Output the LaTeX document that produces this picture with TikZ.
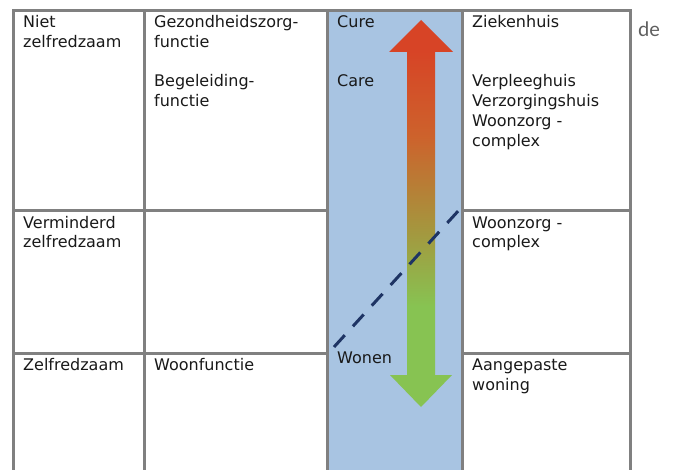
\documentclass[tikz,border=0pt]{standalone}
\usepackage{fontspec}
\setmainfont{DejaVu Sans}
\newfontfamily\defont{Lato}
\definecolor{gridgray}{RGB}{128,128,128}
\definecolor{colblue}{RGB}{168,196,226}
\definecolor{dashblue}{RGB}{30,52,100}
\definecolor{arrred}{RGB}{215,68,38}
\definecolor{arrorange}{RGB}{205,98,44}
\definecolor{arrolive}{RGB}{165,150,62}
\definecolor{arrgreen}{RGB}{135,195,82}
\definecolor{degray}{RGB}{95,95,95}
\pgfdeclareverticalshading{arrowshade}{100bp}{color(0bp)=(arrgreen); color(25bp)=(arrgreen); color(38bp)=(arrgreen); color(48bp)=(arrolive); color(60bp)=(arrorange); color(71bp)=(arrred); color(75bp)=(arrred); color(100bp)=(arrred)}
\begin{document}
\begin{tikzpicture}[x=1pt,y=-1pt,
  gridline/.style={draw=gridgray,line width=3pt},
  celltext/.style={anchor=base west,inner sep=0pt,align=left,font=\fontsize{16}{20}\selectfont,text=black!90},
  dashline/.style={draw=dashblue,line width=3pt,dash pattern=on 16pt off 12pt}]
\useasboundingbox (0,0) rectangle (677,470);
% blue column
\fill[colblue] (327,11) rectangle (462,475);
% arrow
\shade[shading=arrowshade] (421,20) -- (453,52) -- (435,52) -- (435,375) -- (452,375) -- (421,407) -- (390,375) -- (407,375) -- (407,52) -- (389,52) -- cycle;
% dashed line
\coordinate (d1) at (334,347);
\coordinate (d2) at (460,209);
\draw[dashline] (d1) -- (d2);
% grid
\draw[gridline] (13,475) -- (13,11) -- (630,11) -- (630,475);
\draw[gridline] (144,11) -- (144,475);
\draw[gridline] (327,11) -- (327,475);
\draw[gridline] (462,11) -- (462,475);
\draw[gridline] (13,211) -- (327,211);
\draw[gridline] (462,211) -- (630,211);
\draw[gridline] (13,353) -- (327,353);
\draw[gridline] (462,353) -- (630,353);
% texts (base = baseline of the last line)
\node[celltext] (niet) at (23,48) {Niet\\zelfredzaam};
\node[celltext] (gez) at (154,48) {Gezondheidszorg-\\functie};
\node[celltext] (beg) at (154,107) {Begeleiding-\\functie};
\node[celltext] (cure) at (337,28) {Cure};
\node[celltext] (care) at (337,87) {Care};
\node[celltext] (zkh) at (472,28) {Ziekenhuis};
\node[celltext] (vph) at (472,147) {Verpleeghuis\\Verzorgingshuis\\Woonzorg -\\complex};
\node[celltext] (verm) at (23,248) {Verminderd\\zelfredzaam};
\node[celltext] (wzc) at (472,248) {Woonzorg -\\complex};
\node[celltext] (zelf) at (23,370) {Zelfredzaam};
\node[celltext] (woonf) at (154,370) {Woonfunctie};
\node[celltext] (wonen) at (337,363) {Wonen};
\node[celltext] (aang) at (472,390) {Aangepaste\\woning};
\node[anchor=base west,inner sep=0pt,font=\defont\fontsize{20}{24}\selectfont,text=degray] (de) at (638,37) {de};
\end{tikzpicture}
\end{document}
